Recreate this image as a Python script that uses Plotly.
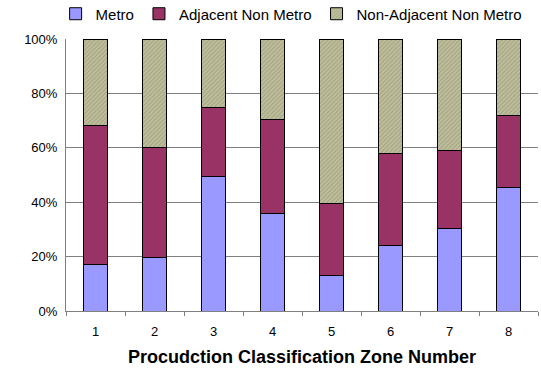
import plotly.graph_objects as go

zones = ["1", "2", "3", "4", "5", "6", "7", "8"]
metro = [17.2, 19.6, 49.6, 35.7, 13.2, 23.9, 30.4, 45.3]
adjacent = [50.9, 40.6, 25.3, 34.8, 26.3, 33.9, 28.6, 26.4]
non_adjacent = [31.9, 39.8, 25.1, 29.5, 60.5, 42.2, 41.0, 28.3]
y_ticks = [0, 20, 40, 60, 80, 100]
y_labels = ["0%", "20%", "40%", "60%", "80%", "100%"]

fig = go.Figure()
fig.add_bar(x=zones, y=metro, name="Metro",
            marker=dict(color="#9999ff", line=dict(color="#000000", width=1)))
fig.add_bar(x=zones, y=adjacent, name="Adjacent Non Metro",
            marker=dict(color="#993366", line=dict(color="#000000", width=1)))
fig.add_bar(x=zones, y=non_adjacent, name="Non-Adjacent Non Metro",
            marker=dict(color="#bfbf9c", line=dict(color="#000000", width=1),
                        pattern=dict(shape="/", fgcolor="#85856a", bgcolor="#bfbf9c",
                                     size=3, solidity=0.35)))

fig.update_layout(
    barmode="stack",
    bargap=0.58,
    width=541, height=373,
    margin=dict(l=66, r=3, t=39, b=62, autoexpand=False),
    paper_bgcolor="white",
    plot_bgcolor="white",
    font=dict(family="Liberation Sans, Arial, sans-serif", color="#000000", size=13),
    legend=dict(orientation="h", x=-0.022, xanchor="left", y=1.092, yanchor="middle",
                font=dict(size=15), itemwidth=30, tracegroupgap=0,
                traceorder="normal"),
    showlegend=True,
)
fig.update_xaxes(
    type="category",
    tickson="boundaries",
    ticks="outside", ticklen=4, tickcolor="#808080",
    ticklabelstandoff=8,
    showline=True, linecolor="#808080", linewidth=1,
    showgrid=False,
    tickfont=dict(size=13),
    title=dict(text="<b>Procudction Classification Zone Number</b>",
               font=dict(size=18), standoff=12),
)
fig.update_yaxes(
    range=[0, 100],
    tickvals=y_ticks, ticktext=y_labels,
    showgrid=True, gridcolor="#808080", gridwidth=1,
    showline=True, linecolor="#808080", linewidth=1,
    ticks="", tickfont=dict(size=13), ticklabelstandoff=5,
    zeroline=False,
)

fig.write_html("out.html", config={"displayModeBar": False},
               post_script="document.body.style.margin='0';")
